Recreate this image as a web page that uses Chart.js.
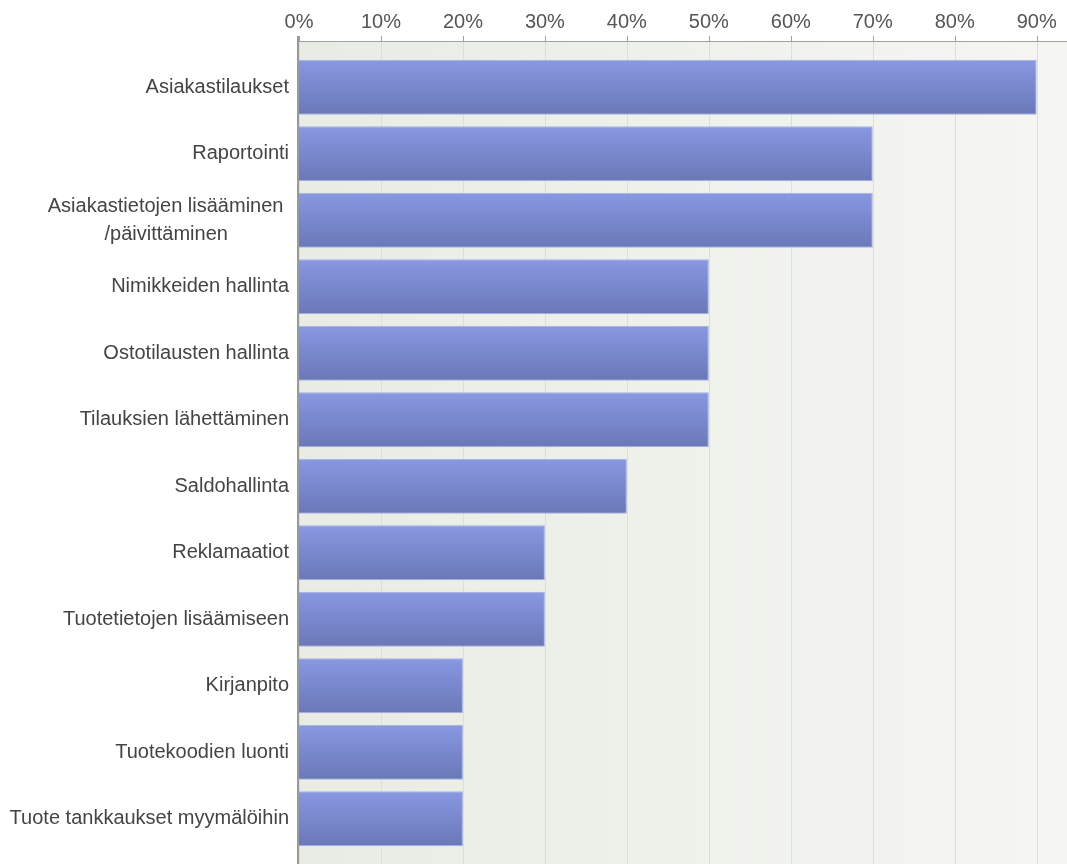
<!DOCTYPE html>
<html>
<head>
<meta charset="utf-8">
<script src="https://cdn.jsdelivr.net/npm/chart.js@4/dist/chart.umd.min.js"></script>
<style>
  html, body { margin: 0; padding: 0; background: #ffffff; }
  #wrap { width: 1067px; height: 864px; }
</style>
</head>
<body>
<div id="wrap"><canvas id="bars" width="1067" height="864"></canvas></div>
<script>
// categories, top to bottom
const categories = [
  "Asiakastilaukset",
  "Raportointi",
  ["Asiakastietojen lisääminen ", "/päivittäminen           "],
  "Nimikkeiden hallinta",
  "Ostotilausten hallinta",
  "Tilauksien lähettäminen",
  "Saldohallinta",
  "Reklamaatiot",
  "Tuotetietojen lisäämiseen",
  "Kirjanpito",
  "Tuotekoodien luonti",
  "Tuote tankkaukset myymälöihin"
];

// share of respondents, percent
const shares = [90, 70, 70, 50, 50, 50, 40, 30, 30, 20, 20, 20];

// labelled positions on the percent axis
const percentTicks = [0, 10, 20, 30, 40, 50, 60, 70, 80, 90];

const FONT = "'Liberation Sans', Arial, sans-serif";

// shaded plot background, grid lines and the top/left axis lines
const plotBackdrop = {
  id: "plotBackdrop",
  beforeDatasetsDraw(chart) {
    const { ctx, chartArea: a, scales: { x } } = chart;
    const top = a.top - 13;
    const bottom = a.bottom + 14;
    ctx.save();
    const g = ctx.createLinearGradient(a.left, 0, a.right, 0);
    g.addColorStop(0, "#e9ece5");
    g.addColorStop(1, "#f5f6f2");
    ctx.fillStyle = g;
    ctx.fillRect(a.left, top, a.right - a.left, bottom - top);

    ctx.strokeStyle = "#dcdedb";
    ctx.lineWidth = 1;
    x.ticks.forEach(t => {
      const px = Math.round(x.getPixelForValue(t.value)) + 0.5;
      ctx.beginPath();
      ctx.moveTo(px, top);
      ctx.lineTo(px, bottom);
      ctx.stroke();
    });

    ctx.strokeStyle = "#a0a0a0";
    ctx.beginPath();
    ctx.moveTo(a.left - 2, top + 0.5);
    ctx.lineTo(a.right, top + 0.5);
    x.ticks.forEach(t => {
      const px = Math.round(x.getPixelForValue(t.value)) + 0.5;
      ctx.moveTo(px, top - 5);
      ctx.lineTo(px, top);
    });
    ctx.stroke();

    ctx.strokeStyle = "#999999";
    ctx.lineWidth = 2;
    ctx.beginPath();
    ctx.moveTo(a.left - 1, top - 5);
    ctx.lineTo(a.left - 1, bottom);
    ctx.stroke();
    ctx.restore();
  }
};

// vertical shading on each bar
function barFill(context) {
  const chart = context.chart;
  const y = chart.scales.y;
  const mid = y && context.dataIndex !== undefined ? y.getPixelForValue(context.dataIndex) : NaN;
  if (!Number.isFinite(mid)) return "#7886cc";
  const half = 27.5;
  const g = chart.ctx.createLinearGradient(0, mid - half, 0, mid + half);
  g.addColorStop(0, "#8898e2");
  g.addColorStop(1, "#6a78b7");
  return g;
}

new Chart(document.getElementById("bars"), {
  type: "bar",
  data: {
    labels: categories,
    datasets: [{
      data: shares,
      backgroundColor: barFill,
      borderColor: "#a7b1e4",
      borderWidth: 1,
      borderSkipped: "left",
      categoryPercentage: 1,
      barPercentage: 0.827
    }]
  },
  options: {
    indexAxis: "y",
    responsive: false,
    animation: false,
    layout: { padding: { top: 0, right: 0, bottom: 12, left: 0 } },
    plugins: {
      legend: { display: false },
      tooltip: { enabled: false }
    },
    scales: {
      x: {
        position: "top",
        min: 0,
        max: 93.7,
        grid: { display: false, drawTicks: false },
        border: { display: false },
        afterBuildTicks(scale) {
          scale.ticks = percentTicks.map(v => ({ value: v }));
        },
        afterFit(scale) {
          scale.height = 54;
          scale.paddingLeft = 0;
          scale.paddingRight = 0;
        },
        ticks: {
          padding: 20,
          color: "#555555",
          font: { family: FONT, size: 20 },
          callback: v => v + "%"
        }
      },
      y: {
        grid: { display: false, drawTicks: false },
        border: { display: false },
        afterFit(scale) {
          scale.width = 299;
          scale.paddingTop = 0;
          scale.paddingBottom = 0;
        },
        ticks: {
          padding: 10,
          color: "#444444",
          autoSkip: false,
          font: { family: FONT, size: 20, lineHeight: 1.4 }
        }
      }
    }
  },
  plugins: [plotBackdrop]
});
</script>
</body>
</html>
